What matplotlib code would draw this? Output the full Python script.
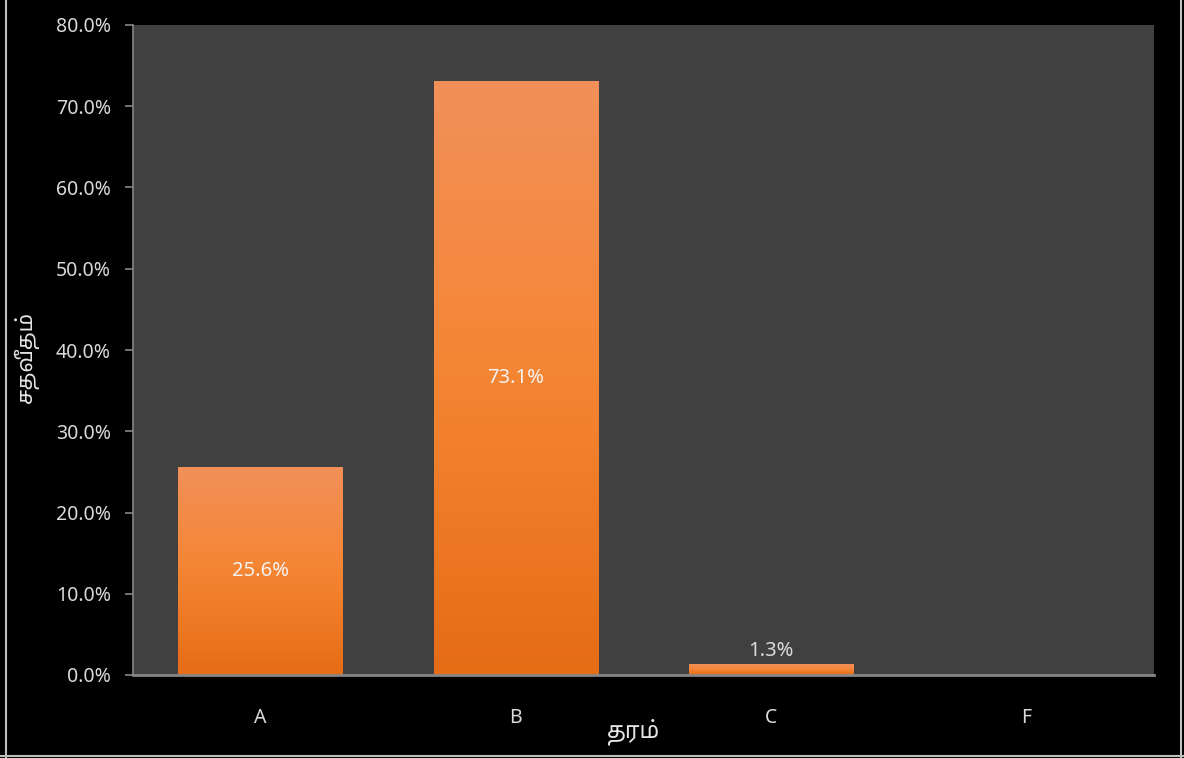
import matplotlib
matplotlib.use("Agg")
import matplotlib.pyplot as plt
import numpy as np
from matplotlib.ticker import PercentFormatter
from matplotlib.colors import LinearSegmentedColormap

grades = ["A", "B", "C", "F"]
shares = [0.256, 0.731, 0.013, 0.0]
labels = ["25.6%", "73.1%", "1.3%", ""]

plt.rcParams['font.family'] = ['Noto Sans Tamil', 'Noto Sans', 'DejaVu Sans']

fig = plt.figure(figsize=(11.84, 7.58), dpi=100, facecolor="black")
ax = fig.add_axes([133 / 1184, 1 - 675 / 758, 1021 / 1184, 650 / 758])
ax.set_facecolor("#404040")

x = np.arange(len(grades))
bars = ax.bar(x, shares, width=0.645, color="#F07E2E", zorder=2)

# orange gradient, light at top, darker at the base
cmap = LinearSegmentedColormap.from_list("org", ["#E66C16", "#F58533", "#F29059"])
grad = np.linspace(0, 1, 256).reshape(-1, 1)
for b in bars:
    if b.get_height() <= 0:
        continue
    x0, w, h = b.get_x(), b.get_width(), b.get_height()
    im = ax.imshow(grad, cmap=cmap, origin="lower", aspect="auto",
                   extent=(x0, x0 + w, 0, h), zorder=3)
    im.set_clip_path(b)

for i, (v, t) in enumerate(zip(shares, labels)):
    if not t:
        continue
    if v > 0.05:
        ax.text(i, v / 2, t, ha="center", va="center", color="#F2F2F2",
                fontsize=14.5, zorder=4)
    else:
        ax.text(i, v + 0.004, t, ha="center", va="bottom", color="#D9D9D9",
                fontsize=14.5, zorder=4)

ax.set_xlim(-0.5, 3.5)
ax.set_ylim(0, 0.8)
ax.set_yticks(np.arange(0, 0.81, 0.1))
ax.yaxis.set_major_formatter(PercentFormatter(1.0, decimals=1))
ax.set_xticks(x)
ax.set_xticklabels(grades)

for s in ["top", "right"]:
    ax.spines[s].set_visible(False)
ax.spines["left"].set_color("#868686")
ax.spines["bottom"].set_color("#868686")
ax.spines["left"].set_linewidth(1.2)
ax.spines["bottom"].set_linewidth(2)
ax.spines["bottom"].set_zorder(5)
ax.tick_params(axis="y", colors="#868686", labelcolor="#D9D9D9", labelsize=14,
               length=6, width=1.2, pad=10)
ax.tick_params(axis="x", length=0, labelcolor="#D9D9D9", labelsize=14, pad=24)

ax.set_ylabel("சதவீதம்", color="#E6E6E6", fontsize=15.5)
ax.yaxis.set_label_coords(-0.092, 0.49)
ax.set_xlabel("தரம்", color="#E6E6E6", fontsize=16.5)
ax.xaxis.set_label_coords(0.49, -0.066)

# thin light frame around the chart area
fig.add_artist(plt.Line2D([6 / 1184, 6 / 1184], [0, 1], color="#BFBFBF", lw=1.5,
                          transform=fig.transFigure))
fig.add_artist(plt.Line2D([1181 / 1184, 1181 / 1184], [0, 1], color="#BFBFBF", lw=1.5,
                          transform=fig.transFigure))
fig.add_artist(plt.Line2D([0, 1], [2 / 758, 2 / 758], color="#BFBFBF", lw=1.5,
                          transform=fig.transFigure))

fig.savefig("out.png", dpi=100, facecolor="black")
